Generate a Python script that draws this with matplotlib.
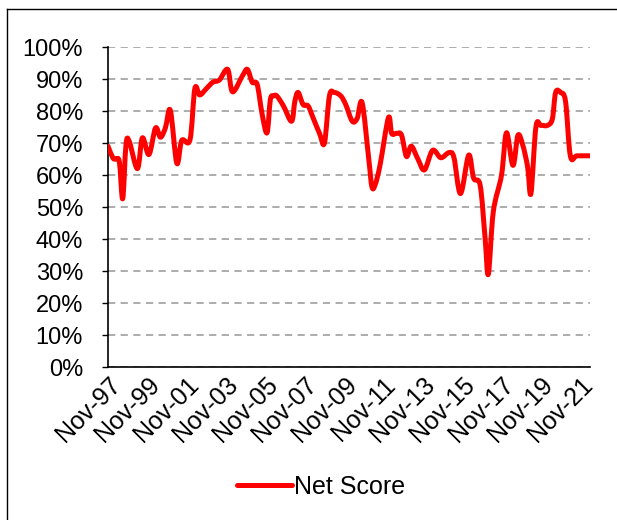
import matplotlib
matplotlib.use("Agg")
import matplotlib.pyplot as plt
import matplotlib.dates as mdates
from matplotlib.lines import Line2D
from matplotlib.path import Path
from matplotlib.patches import PathPatch
import numpy as np
import pandas as pd

plt.rcParams['font.family'] = ['Liberation Sans', 'DejaVu Sans']

dates = ["1997-11", "1998-02", "1998-04", "1998-06", "1998-08", "1998-10", "1998-12",
         "1999-05", "1999-08", "1999-12", "2000-04", "2000-07", "2000-10", "2001-01",
         "2001-05", "2001-08", "2002-01", "2002-04", "2002-07", "2002-11", "2003-03",
         "2003-07", "2003-12", "2004-03", "2004-09", "2004-12", "2005-03", "2005-06",
         "2005-09", "2005-12", "2006-02", "2006-04", "2006-06", "2006-10", "2007-03",
         "2007-05", "2007-07", "2007-10", "2008-01", "2008-04", "2008-08", "2008-11",
         "2009-02", "2009-05", "2009-09", "2009-12", "2010-04", "2010-07", "2010-10",
         "2011-02", "2011-04", "2011-06", "2011-09", "2012-02", "2012-04", "2012-07",
         "2012-10", "2013-01", "2013-04", "2013-08", "2013-12", "2014-05", "2014-10",
         "2015-03", "2015-06", "2015-10", "2016-03", "2016-06", "2016-10", "2017-01",
         "2017-03", "2017-06", "2017-11", "2018-02", "2018-06", "2018-09", "2018-12",
         "2019-03", "2019-05", "2019-08", "2019-11", "2020-03", "2020-06", "2020-08",
         "2020-11", "2021-02", "2021-05", "2021-09", "2022-05"]
net_score = [69, 65.3, 65, 64, 52.6, 69.5, 70.5,
             62, 71.6, 66.4, 74.7, 71.8, 74.7, 80.2,
             63.7, 70.8, 71, 87, 85, 87, 89,
             89.7, 93, 86, 91, 93, 89, 88.3,
             79, 73.2, 83.6, 84.7, 84.7, 81.6, 76.8,
             83, 85.8, 82, 81.6, 78, 73, 70,
             84.7, 85.8, 84.7, 82, 76.8, 77.7, 82.6,
             65, 56.3, 57, 63.3, 77.9, 73, 73,
             72.5, 65.8, 69, 65, 61.6, 67.7, 65.4,
             67, 65.5, 54.2, 66.2, 59, 56.7, 40,
             29, 48.5, 60, 73.2, 63, 72.4, 69.3,
             62.4, 54.2, 75, 75.5, 75.5, 77.5, 85.8,
             85.8, 83, 66, 66, 66]
tick_dates = ["1997-11", "1999-11", "2001-11", "2003-11", "2005-11", "2007-11", "2009-11",
              "2011-11", "2013-11", "2015-11", "2017-11", "2019-11", "2021-11"]
tick_labels = ["Nov-97", "Nov-99", "Nov-01", "Nov-03", "Nov-05", "Nov-07", "Nov-09",
               "Nov-11", "Nov-13", "Nov-15", "Nov-17", "Nov-19", "Nov-21"]
y_ticks = [0, 10, 20, 30, 40, 50, 60, 70, 80, 90, 100]

x = mdates.date2num(pd.to_datetime(dates))
y = np.array(net_score) / 100.0

fig = plt.figure(figsize=(6.17, 5.2), dpi=100)
ax = fig.add_axes([108/617, 1-367/520, (590-108)/617, (367-47)/520])

# Smoothed line (Catmull-Rom style cubic Bezier through the data points)
verts = [(x[0], y[0])]
codes = [Path.MOVETO]
n = len(x)
t = 1/6
for i in range(n - 1):
    p0 = (x[i-1], y[i-1]) if i > 0 else (x[i], y[i])
    p1 = (x[i], y[i])
    p2 = (x[i+1], y[i+1])
    p3 = (x[i+2], y[i+2]) if i + 2 < n else (x[i+1], y[i+1])
    c1 = (p1[0] + (p2[0]-p0[0])*t, p1[1] + (p2[1]-p0[1])*t)
    c2 = (p2[0] - (p3[0]-p1[0])*t, p2[1] - (p3[1]-p1[1])*t)
    verts += [c1, c2, p2]
    codes += [Path.CURVE4]*3
patch = PathPatch(Path(verts, codes), facecolor='none', edgecolor='#FF0000',
                  lw=3.6, joinstyle='round', capstyle='round', zorder=3)
ax.add_patch(patch)

ax.set_ylim(0, 1)
ax.set_xlim(mdates.date2num(pd.Timestamp("1997-11-01")), mdates.date2num(pd.Timestamp("2022-05-01")))
ax.xaxis_date()
ax.set_yticks([v/100 for v in y_ticks])
ax.set_yticklabels([f"{v}%" for v in y_ticks], fontsize=17)
ax.tick_params(axis='y', direction='out', length=4, width=1, pad=14)
ax.set_xticks(mdates.date2num(pd.to_datetime(tick_dates)))
ax.set_xticklabels(tick_labels, rotation=45, ha='right', va='top',
                   rotation_mode='anchor', fontsize=18)
ax.tick_params(axis='x', length=0, pad=4)
ax.grid(axis='y', color='#A6A6A6', linestyle=(0, (4, 3)), lw=1.3)
ax.set_axisbelow(True)
for s in ['top', 'right']:
    ax.spines[s].set_visible(False)
ax.spines['left'].set_linewidth(1.2)
ax.spines['bottom'].set_linewidth(1.2)

handle = Line2D([], [], color='#FF0000', lw=3.6, solid_capstyle='round')
fig.legend([handle], ['Net Score'], loc='center', bbox_to_anchor=(321/617, 1-487/520),
           frameon=False, fontsize=18, handlelength=2.2, handletextpad=0.1)

fig.add_artist(Line2D([7/617, 7/617], [0, 1-9/520], transform=fig.transFigure,
                      color='black', lw=1))
fig.add_artist(Line2D([7/617, 1], [1-9/520, 1-9/520], transform=fig.transFigure,
                      color='black', lw=1))

fig.savefig("out.png", dpi=100)
